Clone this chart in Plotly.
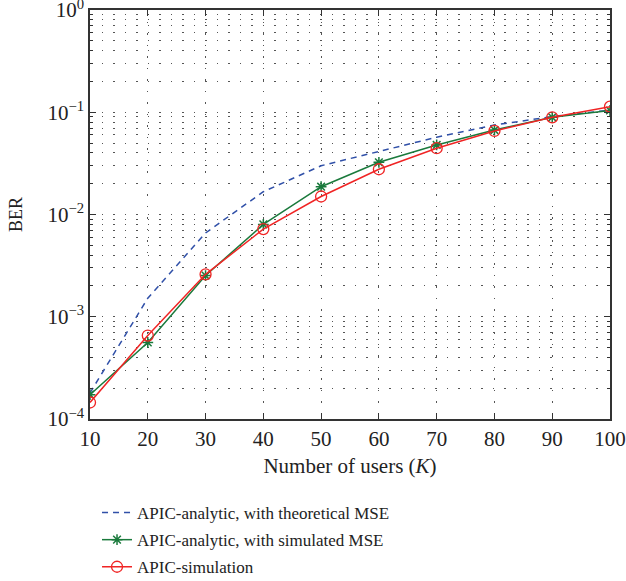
import plotly.graph_objects as go

users = [10, 20, 30, 40, 50, 60, 70, 80, 90, 100]
ber_theory = [1.8e-4, 1.52e-3, 6.6e-3, 1.67e-2, 3.0e-2, 4.12e-2, 5.7e-2, 7.5e-2, 9.06e-2, 0.105]
ber_sim_mse = [1.73e-4, 5.6e-4, 2.53e-3, 8.0e-3, 1.87e-2, 3.24e-2, 4.79e-2, 6.7e-2, 8.93e-2, 0.104]
ber_sim = [1.45e-4, 6.55e-4, 2.6e-3, 7.2e-3, 1.5e-2, 2.77e-2, 4.45e-2, 6.56e-2, 8.93e-2, 0.1135]

names = ["APIC-analytic, with theoretical MSE",
         "APIC-analytic, with simulated MSE",
         "APIC-simulation"]

y_major = [1e-4, 1e-3, 1e-2, 1e-1, 1e0]
y_major_text = ["10<sup>−4</sup>", "10<sup>−3</sup>", "10<sup>−2</sup>", "10<sup>−1</sup>", "10<sup>0</sup>"]
y_minor = [m * 10.0 ** e for e in range(-4, 0) for m in range(2, 10)]
x_ticks = users

font_family = "Liberation Serif, Times New Roman, serif"

fig = go.Figure()
fig.add_trace(go.Scatter(x=users, y=ber_theory, name=names[0], mode="lines", legendgroup="a",
                         line=dict(color="#3050a8", width=1.5, dash="6px,5px")))
fig.add_trace(go.Scatter(x=users, y=ber_sim_mse, name=names[1], mode="lines+markers", legendgroup="b",
                         line=dict(color="#1a7a3c", width=1.5),
                         marker=dict(symbol="asterisk-open", size=9,
                                     line=dict(color="#1a7a3c", width=1.5))))
fig.add_trace(go.Scatter(x=users, y=ber_sim, name=names[2], mode="lines+markers", legendgroup="c",
                         line=dict(color="#f02424", width=1.5),
                         marker=dict(symbol="circle-open", size=11,
                                     line=dict(color="#f02424", width=1.3))))

grid_dash = "1.5px,10px"
fig.update_layout(
    width=626, height=581,
    margin=dict(l=90, r=16, t=10, b=162, autoexpand=False),
    paper_bgcolor="white", plot_bgcolor="white",
    font=dict(family=font_family, size=16, color="#222"),
    showlegend=True,
    legend=dict(x=0.0135, y=0.148, xref="paper", yref="container",
                xanchor="left", yanchor="top",
                font=dict(family=font_family, size=17, color="#222"),
                bgcolor="rgba(0,0,0,0)", tracegroupgap=2),
    xaxis=dict(range=[10, 100], tickvals=x_ticks, ticks="inside", ticklen=6,
               tickcolor="#333", showline=True, linecolor="#333", linewidth=1.5,
               mirror="ticks", showgrid=True, gridcolor="#555", gridwidth=1,
               griddash=grid_dash, zeroline=False, ticklabeloverflow="allow",
               automargin=False, tickfont=dict(size=21),
               title=dict(text="Number of users (<i>K</i>)", font=dict(size=21), standoff=8)),
    yaxis=dict(type="log", range=[-4, 0], tickvals=y_major, ticktext=y_major_text,
               ticks="inside", ticklen=6, tickcolor="#333", showline=True,
               linecolor="#333", linewidth=1.5, mirror="ticks", showgrid=True,
               gridcolor="#555", gridwidth=1, griddash=grid_dash, zeroline=False,
               ticklabeloverflow="allow", automargin=False,
               tickfont=dict(size=21),
               minor=dict(tickmode="array", tickvals=y_minor, ticks="inside", ticklen=3,
                          tickcolor="#333", showgrid=True, gridcolor="#555",
                          gridwidth=1, griddash=grid_dash),
               title=dict(text="BER", font=dict(size=18), standoff=20)),
)

fig.write_html("out.html")
